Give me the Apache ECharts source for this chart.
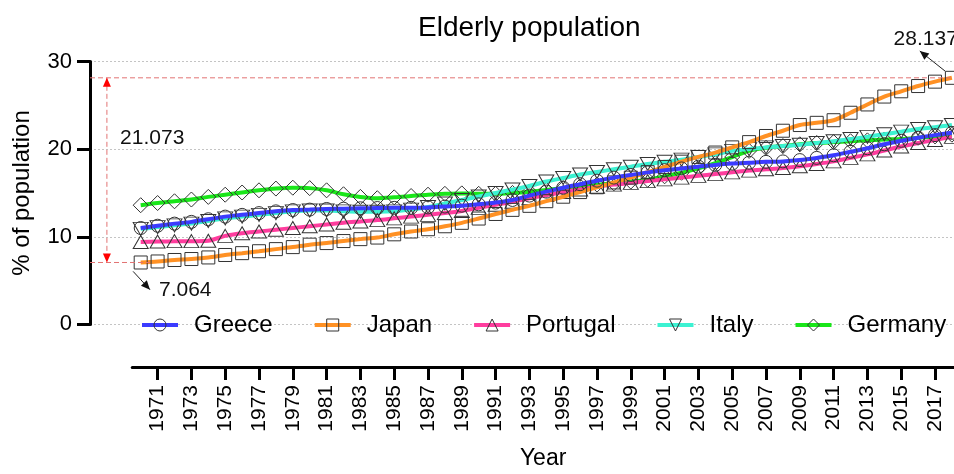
<!DOCTYPE html>
<html>
<head>
<meta charset="utf-8">
<script src="https://cdn.jsdelivr.net/npm/echarts@6/dist/echarts.min.js"></script>
<style>
  html, body { margin: 0; padding: 0; background: #fff; }
  #chart { width: 954px; height: 474px; }
</style>
</head>
<body>
<div id="chart"></div>
<script>
// Share of population aged 65+ (%), 1970–2018
const years = [
  1970, 1971, 1972, 1973, 1974, 1975, 1976, 1977, 1978, 1979,
  1980, 1981, 1982, 1983, 1984, 1985, 1986, 1987, 1988, 1989,
  1990, 1991, 1992, 1993, 1994, 1995, 1996, 1997, 1998, 1999,
  2000, 2001, 2002, 2003, 2004, 2005, 2006, 2007, 2008, 2009,
  2010, 2011, 2012, 2013, 2014, 2015, 2016, 2017, 2018
];
const greece = [
  11.0, 11.26, 11.5, 11.7, 12.0, 12.3, 12.5, 12.7, 12.9, 13.05,
  13.1, 13.17, 13.2, 13.25, 13.28, 13.3, 13.3, 13.35, 13.45, 13.55,
  13.7, 13.9, 14.2, 14.7, 15.15, 15.6, 16.0, 16.4, 16.75, 17.05,
  17.35, 17.6, 17.8, 18.0, 18.2, 18.35, 18.45, 18.55, 18.6, 18.75,
  19.0, 19.3, 19.7, 20.1, 20.55, 20.95, 21.3, 21.6, 21.86
];
const japan = [
  7.064, 7.18, 7.35, 7.46, 7.64, 7.92, 8.13, 8.35, 8.59, 8.82,
  9.1, 9.28, 9.51, 9.73, 9.91, 10.28, 10.6, 10.86, 11.2, 11.59,
  12.08, 12.6, 13.07, 13.53, 14.06, 14.57, 15.1, 15.65, 16.2, 16.75,
  17.37, 17.97, 18.57, 19.11, 19.61, 20.2, 20.8, 21.5, 22.1, 22.75,
  23.0, 23.3, 24.15, 25.1, 26.0, 26.6, 27.2, 27.7, 28.137
];
const portugal = [
  9.4, 9.45, 9.5, 9.5, 9.55, 10.1, 10.4, 10.6, 10.8, 11.0,
  11.2, 11.4, 11.6, 11.75, 11.9, 12.1, 12.3, 12.5, 12.7, 12.95,
  13.3, 13.65, 14.0, 14.4, 14.75, 15.1, 15.4, 15.7, 15.95, 16.15,
  16.35, 16.55, 16.75, 16.95, 17.15, 17.35, 17.55, 17.7, 17.85, 18.05,
  18.3, 18.6, 19.0, 19.4, 19.85, 20.3, 20.7, 21.05, 21.4
];
const italy = [
  10.9, 11.1, 11.3, 11.5, 11.8, 12.1, 12.3, 12.5, 12.7, 12.9,
  13.0, 13.0, 12.9, 12.85, 12.85, 12.9, 13.1, 13.4, 13.8, 14.2,
  14.6, 15.0, 15.4, 15.8, 16.3, 16.7, 17.1, 17.4, 17.7, 18.0,
  18.3, 18.55, 18.8, 19.1, 19.4, 19.8, 20.0, 20.2, 20.35, 20.5,
  20.7, 20.9, 21.15, 21.4, 21.7, 22.0, 22.3, 22.5, 22.75
];
const germany = [
  13.6, 13.85, 14.05, 14.25, 14.55, 14.8, 15.05, 15.3, 15.5, 15.6,
  15.55, 15.3, 14.85, 14.55, 14.4, 14.5, 14.65, 14.8, 14.9, 14.95,
  14.9, 14.9, 15.0, 15.15, 15.35, 15.55, 15.75, 15.95, 16.1, 16.3,
  16.5, 16.9, 17.3, 17.8, 18.4, 19.1, 19.8, 20.15, 20.35, 20.55,
  20.7, 20.8, 20.9, 21.0, 21.1, 21.15, 21.3, 21.45, 21.65
];
const tickYears = [
  1971, 1973, 1975, 1977, 1979, 1981, 1983, 1985, 1987, 1989, 1991, 1993,
  1995, 1997, 1999, 2001, 2003, 2005, 2007, 2009, 2011, 2013, 2015, 2017
];

const FONT = 'Liberation Sans, Arial, Helvetica, sans-serif';
const X_MIN = 1967, X_AXIS_START = 1969.5, X_MAX = 2018.124;

const pairs = vals => years.map((y, i) => [y, vals[i]]);

function lineSeries(name, vals, color, symbol, size, rotate, z) {
  return {
    name, type: 'line', data: pairs(vals),
    xAxisIndex: 0, yAxisIndex: 0,
    smooth: 0.3, z,
    symbol, symbolSize: size, symbolRotate: rotate,
    showAllSymbol: true,
    lineStyle: { color, width: 4 },
    itemStyle: { color: 'rgba(255,255,255,0)', borderColor: '#333', borderWidth: 1 },
    emphasis: { disabled: true },
    animation: false
  };
}

const chart = echarts.init(document.getElementById('chart'), null, { renderer: 'canvas' });

chart.setOption({
  backgroundColor: '#fff',
  animation: false,
  textStyle: { fontFamily: FONT },
  title: {
    text: 'Elderly population',
    left: 413, top: 9,
    textStyle: { fontSize: 28, fontWeight: 'normal', color: '#000', fontFamily: FONT }
  },
  legend: {
    left: 140, top: 313, padding: 0,
    itemWidth: 36, itemHeight: 15, itemGap: 40,
    lineStyle: { width: 4 },
    itemStyle: { borderWidth: 1, borderColor: '#333' },
    textStyle: { fontSize: 24, color: '#000', fontFamily: FONT, padding: [0, 0, 0, 11] },
    data: ['Greece', 'Japan', 'Portugal', 'Italy', 'Germany']
  },
  grid: [
    { left: 90, right: 0, top: 61.5, bottom: 149.6, containLabel: false, outerBoundsMode: 'none' },
    { left: 132.25, right: 0, top: 300, bottom: 107, containLabel: false, outerBoundsMode: 'none' }
  ],
  xAxis: [
    {
      gridIndex: 0, type: 'value', min: X_MIN, max: X_MAX,
      axisLine: { show: false }, axisTick: { show: false },
      axisLabel: { show: false }, splitLine: { show: false }
    },
    {
      gridIndex: 1, type: 'value', min: X_AXIS_START, max: X_MAX,
      position: 'bottom',
      name: 'Year', nameLocation: 'middle', nameGap: 80,
      nameTextStyle: { fontSize: 23, color: '#000', fontFamily: FONT },
      axisLine: { show: true, lineStyle: { color: '#000', width: 3 } },
      axisTick: { show: true, length: 13, lineStyle: { color: '#000', width: 3 }, customValues: tickYears },
      axisLabel: {
        show: true, rotate: 90, margin: 18, fontSize: 21, color: '#000', fontFamily: FONT,
        customValues: tickYears, formatter: v => String(v)
      },
      splitLine: { show: false }
    }
  ],
  yAxis: [
    {
      gridIndex: 0, type: 'value', min: 0, max: 30, interval: 10,
      name: '% of population', nameLocation: 'middle', nameGap: 56,
      nameTextStyle: { fontSize: 24, color: '#000', fontFamily: FONT },
      axisLine: { show: true, lineStyle: { color: '#000', width: 3 } },
      axisTick: { show: true, length: 13, lineStyle: { color: '#000', width: 3 } },
      axisLabel: { margin: 18, fontSize: 22, color: '#000', fontFamily: FONT },
      splitLine: { show: true, lineStyle: { color: '#c4c4c4', type: [2, 2], width: 1 } }
    },
    { gridIndex: 1, type: 'value', show: false }
  ],
  series: [
    lineSeries('Germany', germany, '#19e619', 'diamond', [15, 15], 0, 2),
    lineSeries('Italy', italy, '#3cf2d2', 'triangle', [15, 13], 180, 3),
    lineSeries('Portugal', portugal, '#ff3d9e', 'triangle', [15, 13], 0, 4),
    lineSeries('Japan', japan, '#ff9124', 'rect', [13, 13], 0, 5),
    lineSeries('Greece', greece, '#3b3bff', 'circle', [13, 13], 0, 6)
  ]
});

// Annotations: range of the Japan series (first value, last value and their difference)
const P = (x, y) => chart.convertToPixel({ xAxisIndex: 0, yAxisIndex: 0 }, [x, y]);
const jStart = japan[0];
const jEnd = japan[japan.length - 1];
const jDiff = jEnd - jStart;

function arrowHead(tip, from, len, half, color) {
  const dx = tip[0] - from[0], dy = tip[1] - from[1];
  const d = Math.hypot(dx, dy) || 1;
  const ux = dx / d, uy = dy / d;
  const bx = tip[0] - ux * len, by = tip[1] - uy * len;
  return {
    type: 'polygon', silent: true, z: 20,
    shape: { points: [tip, [bx - uy * half, by + ux * half], [bx + uy * half, by - ux * half]] },
    style: { fill: color }
  };
}
function seg(a, b, stroke, dash) {
  return {
    type: 'line', silent: true, z: 19,
    shape: { x1: a[0], y1: a[1], x2: b[0], y2: b[1] },
    style: { stroke, lineWidth: 1, lineDash: dash || null }
  };
}
function label(p, text) {
  return {
    type: 'text', silent: true, z: 21,
    x: p[0], y: p[1],
    style: { text, fill: '#111', fontSize: 21, fontFamily: FONT, align: 'left', verticalAlign: 'middle' }
  };
}

const RED_DASH = '#e27373';
const topL = P(X_MIN, jEnd), topR = P(X_MAX, jEnd);
const botL = P(X_MIN, jStart), botR = P(1970.55, jStart);
const vTop = P(1968, jEnd), vBot = P(1968, jStart);
const a1from = P(1969.55, 6.05), a1tip = P(1970.55, 3.96);
const a2from = P(2017.6, 28.9), a2tip = P(2016.1, 31.2);

chart.setOption({
  graphic: [
    seg(topL, topR, RED_DASH, [5, 3]),
    seg(botL, botR, RED_DASH, [5, 3]),
    seg(vTop, vBot, RED_DASH, [5, 3]),
    arrowHead(vTop, vBot, 9, 4, '#ff0000'),
    arrowHead(vBot, vTop, 9, 4, '#ff0000'),
    seg(a1from, a1tip, '#222'),
    arrowHead(a1tip, a1from, 9, 4, '#111'),
    seg(a2from, a2tip, '#222'),
    arrowHead(a2tip, a2from, 9, 4, '#111'),
    label(P(1968.78, 21.2), jDiff.toFixed(3)),
    label(P(1971.08, 3.85), jStart.toFixed(3)),
    label(P(2014.55, 32.6), jEnd.toFixed(3))
  ]
});
</script>
</body>
</html>
